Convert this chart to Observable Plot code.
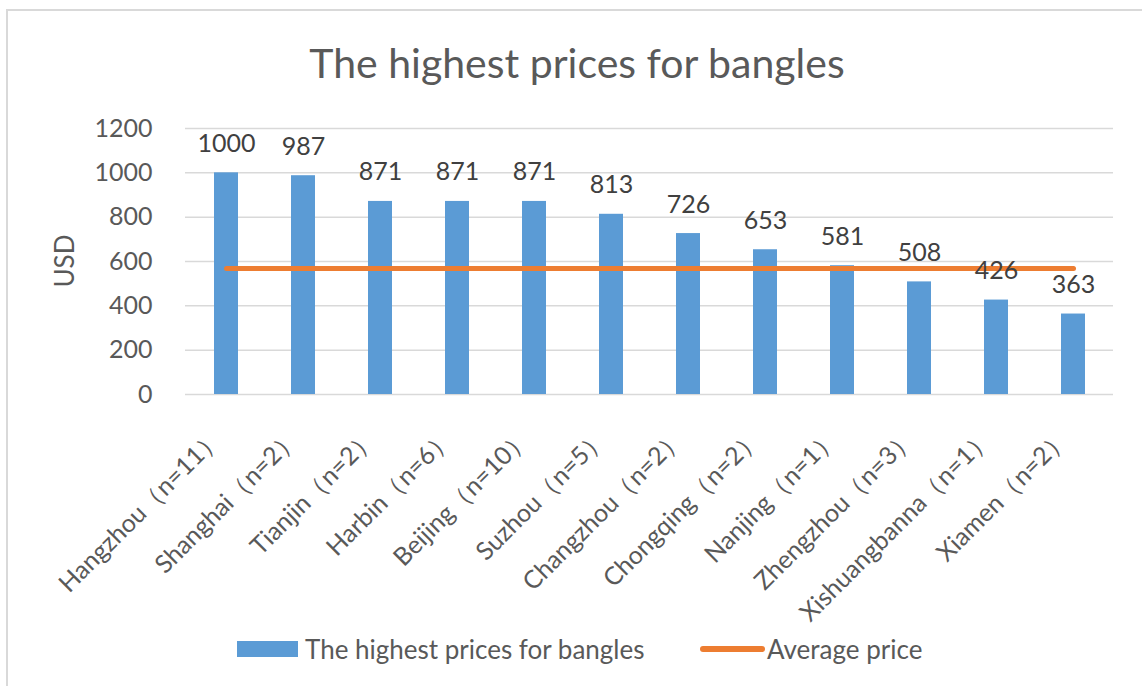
<!DOCTYPE html>
<html>
<head>
<meta charset="utf-8">
<script src="https://cdn.jsdelivr.net/npm/d3@7"></script>
<script src="https://cdn.jsdelivr.net/npm/@observablehq/plot@0.6"></script>
<style>
  body { margin: 0; background: #fff; font-family: Lato, "Open Sans", sans-serif; }
  #wrap { position: relative; width: 1142px; height: 686px; overflow: hidden; }
  #frame { position: absolute; left: 6px; top: 9px; width: 1142px; height: 700px;
           border-top: 2px solid #d9d9d9; border-left: 2px solid #d9d9d9; }
  #title { position: absolute; top: 38px; left: 0; width: 1154px; text-align: center;
           font-size: 41px; color: #595959; line-height: 50px; }
  #chart { position: absolute; top: 100px; left: 0; }
  #legend { position: absolute; top: 634px; left: 0; width: 1142px; height: 32px;
            font-size: 26px; color: #595959; line-height: 30px; }
  .sw { position: absolute; }
</style>
</head>
<body>
<div id="wrap">
  <div id="frame"></div>
  <div id="title">The highest prices for bangles</div>
  <div id="chart"></div>
  <div id="legend">
    <div class="sw" style="left:237px;top:7px;width:61px;height:16px;background:#5B9BD5"></div>
    <div class="sw" style="left:305px;top:0px">The highest prices for bangles</div>
    <div class="sw" style="left:700px;top:12px;width:65px;height:6px;border-radius:3px;background:#ED7D31"></div>
    <div class="sw" style="left:767px;top:0px">Average price</div>
  </div>
</div>
<script>
const cities = ["Hangzhou（n=11）", "Shanghai（n=2）", "Tianjin（n=2）", "Harbin（n=6）", "Beijing（n=10）", "Suzhou（n=5）", "Changzhou（n=2）", "Chongqing（n=2）", "Nanjing（n=1）", "Zhengzhou（n=3）", "Xishuangbanna（n=1）", "Xiamen（n=2）"];
const highestPrices = [1000, 987, 871, 871, 871, 813, 726, 653, 581, 508, 426, 363];
const averagePrice = [568, 568, 568, 568, 568, 568, 568, 568, 568, 568, 568, 568];
const yTicks = [0, 200, 400, 600, 800, 1000, 1200];

const data = cities.map((c, i) => ({city: c, value: highestPrices[i], avg: averagePrice[i]}));

const chart = Plot.plot({
  width: 1142,
  height: 520,
  marginTop: 28,
  marginBottom: 226,
  marginLeft: 185,
  marginRight: 29,
  style: {fontFamily: "Lato, 'Open Sans', sans-serif", fontSize: "25px", color: "#595959", background: "transparent", overflow: "visible"},
  x: {domain: cities, paddingInner: 0.69, paddingOuter: 0.345, label: null, axis: null},
  y: {domain: [0, 1200], label: null, axis: null},
  marks: [
    Plot.gridY(yTicks, {stroke: "#d9d9d9", strokeOpacity: 1, strokeWidth: 1.5}),
    Plot.axisY({ticks: yTicks, tickFormat: d => String(d), tickSize: 0, tickPadding: 33, fontSize: 25, fill: "#595959", label: null}),
    Plot.text(data, {x: "city", text: "city", frameAnchor: "bottom", rotate: -45, textAnchor: "end", lineAnchor: "top", dx: -15, dy: 32, fontSize: 25, fill: "#595959"}),
    Plot.barY(data, {x: "city", y: "value", fill: "#5B9BD5"}),
    Plot.line(data, {x: "city", y: "avg", stroke: "#ED7D31", strokeWidth: 5, strokeLinecap: "round"}),
    Plot.text(data, {x: "city", y: "value", text: d => String(d.value), dy: -29, fontSize: 25, fill: "#404040"})
  ]
});
document.getElementById("chart").appendChild(chart);

// USD label
const svg = d3.select(chart);
svg.append("text")
  .attr("transform", "translate(67,161) rotate(-90)")
  .attr("text-anchor", "middle")
  .attr("dominant-baseline", "middle")
  .attr("font-size", 26)
  .attr("fill", "#595959")
  .text("USD");
</script>
</body>
</html>
